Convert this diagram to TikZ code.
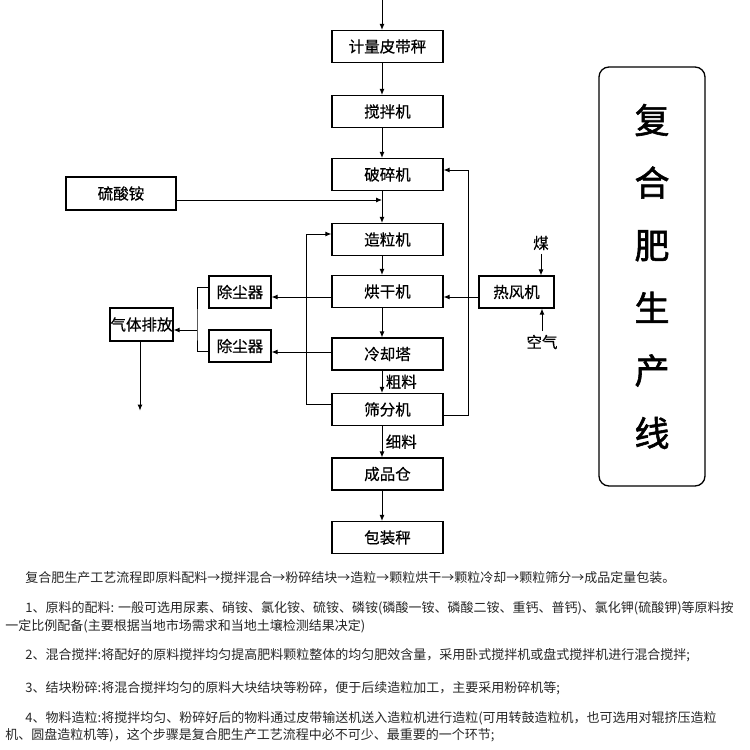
\documentclass[tikz,border=0pt]{standalone}
\usepackage{fontspec}
\setmainfont{Noto Sans CJK SC}
\newfontfamily\heifont{Noto Sans CJK SC}[FakeBold=0.5]
\newfontfamily\titlefont{Noto Sans CJK SC}[FakeBold=1.6]
\usepackage{tikz}
\usetikzlibrary{arrows.meta,positioning}
\tikzset{font=\heifont\fontsize{15.5}{18}\selectfont}
\tikzstyle{box}=[draw,line width=1.2pt,minimum width=111pt,minimum height=32pt,inner sep=0pt]
\tikzstyle{para}=[anchor=west,inner sep=0pt,font=\normalfont\fontsize{13}{15}\selectfont,text=black!85]

\begin{document}
\begin{tikzpicture}[x=1pt,y=-1pt,line width=0.9pt,>={Latex[length=6pt,width=5pt]}]
\useasboundingbox (0,0) rectangle (750,750);
% main line
\node[box] (jl) at (387.5,46.5) {计量皮带秤};
\node[box] (jb) at (387.5,111.5) {搅拌机};
\node[box] (ps) at (387.5,174.5) {破碎机};
\node[box] (zl) at (387.5,239.5) {造粒机};
\node[box] (hg) at (387.5,291.5) {烘干机};
\node[box] (lq) at (387.5,354) {冷却塔};
\node[box] (sf) at (387.5,409.5) {筛分机};
\node[box] (cp) at (387.5,474) {成品仓};
\node[box] (bz) at (387.5,537.5) {包装秤};
% side units
\node[box,minimum width=110pt,minimum height=33pt] (lsa) at (121,193.5) {硫酸铵};
\node[box,minimum width=62pt] (ccq1) at (240,292) {除尘器};
\node[box,minimum width=62pt] (ccq2) at (240,346) {除尘器};
\node[box,minimum width=63pt,minimum height=33pt] (qt) at (141.5,324.5) {气体排放};
\node[box,minimum width=75pt] (rf) at (516.5,292) {热风机};
\node (mei) at (541,243) {煤};
\node (kq) at (542,342) {空气};
%\node (ti) title
\node[draw,line width=1.3pt,rounded corners=10pt,minimum width=106pt,minimum height=419pt,
  align=center,font=\titlefont\fontsize{35}{62.6}\selectfont] (ti) at (652,276.5) {复\\合\\肥\\生\\产\\线};
\coordinate (in) at (382,0);
\coordinate (j) at (382,200);
\coordinate (br) at (197,330);
\path[->]
(in) edge ([xshift=-5.5pt]jl.north)
([xshift=-5.5pt]jl.south) edge ([xshift=-5.5pt]jb.north)
([xshift=-5.5pt]jb.south) edge ([xshift=-5.5pt]ps.north)
([xshift=-5.5pt]ps.south) edge ([xshift=-5.5pt]zl.north)
([xshift=-5.5pt]zl.south) edge ([xshift=-5.5pt]hg.north)
([xshift=-5.5pt]hg.south) edge ([xshift=-5.5pt]lq.north)
([xshift=-5.5pt]lq.south) edge node[right]{粗料} ([xshift=-5.5pt]sf.north)
([xshift=-5.5pt]sf.south) edge node[right]{细料} ([xshift=-5.5pt]cp.north)
([xshift=-5.5pt]cp.south) edge ([xshift=-5.5pt]bz.north)
(lsa.east |- j) edge (j)
([yshift=-5pt]rf.west) edge ([yshift=-5.5pt]hg.east)
(mei) edge (mei |- rf.north)
(kq) edge (kq |- rf.south)
([yshift=-5.5pt]hg.west) edge ([yshift=-5pt]ccq1.east)
([yshift=2pt]lq.west) edge ([yshift=-6pt]ccq2.east)
(br) edge ([yshift=-5.5pt]qt.east)
([xshift=-1.5pt]qt.south) edge ++(0,69);
% return lines
\draw[->] ([yshift=-5.5pt]sf.east) -- ++(24.5,0) |- ([yshift=4.5pt]ps.east);
\draw[->] ([yshift=5.5pt]sf.west) -- ++(-25,0) |- ([yshift=5.5pt]zl.west);
\draw ([yshift=5pt]ccq1.west) -| (br) |- ([yshift=-5pt]ccq2.west);
% text below
\node[para] (p0) at (25,578) {复合肥生产工艺流程即原料配料→搅拌混合→粉碎结块→造粒→颗粒烘干→颗粒冷却→颗粒筛分→成品定量包装。};
\node[para] (p1) at (25,608) {1、原料的配料: 一般可选用尿素、硝铵、氯化铵、硫铵、磷铵(磷酸一铵、磷酸二铵、重钙、普钙)、氯化钾(硫酸钾)等原料按};
\node[para] (p1b) at (5,626) {一定比例配备(主要根据当地市场需求和当地土壤检测结果决定)};
\node[para] (p2) at (25,655) {2、混合搅拌:将配好的原料搅拌均匀提高肥料颗粒整体的均匀肥效含量，采用卧式搅拌机或盘式搅拌机进行混合搅拌;};
\node[para] (p3) at (25,688) {3、结块粉碎:将混合搅拌均匀的原料大块结块等粉碎，便于后续造粒加工，主要采用粉碎机等;};
\node[para] (p4) at (25,718) {4、物料造粒:将搅拌均匀、粉碎好后的物料通过皮带输送机送入造粒机进行造粒(可用转鼓造粒机，也可选用对辊挤压造粒};
\node[para] (p4b) at (5,735) {机、圆盘造粒机等)，这个步骤是复合肥生产工艺流程中必不可少、最重要的一个环节;};
\end{tikzpicture}
\end{document}
